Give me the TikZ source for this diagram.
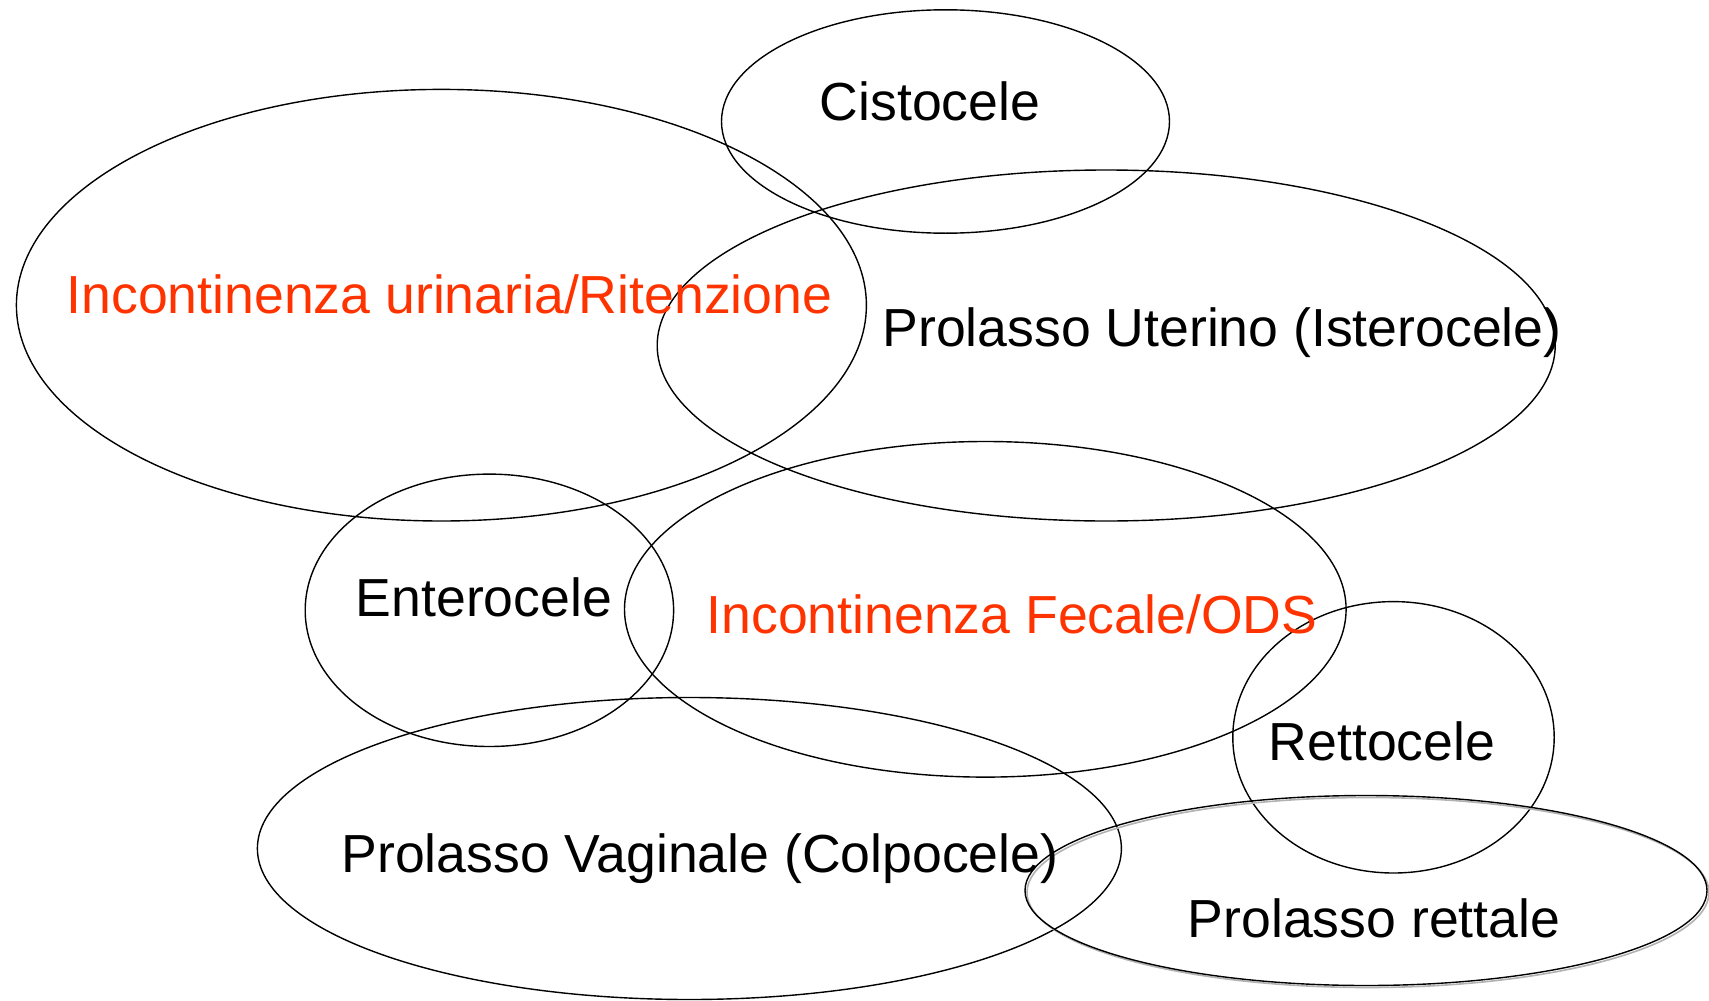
\documentclass[tikz,border=0pt]{standalone}
\usepackage{fontspec}
\setmainfont{Liberation Sans}
\definecolor{labelred}{RGB}{255,51,0}
\begin{document}
\begin{tikzpicture}[x=1pt,y=-1pt,
  oval/.style={draw=black,line width=1.4pt},
  shadowoval/.style={draw=black!30,line width=1.6pt},
  lbl/.style={font=\fontsize{53.6}{60}\selectfont,anchor=base,inner sep=0pt,text=black},
  redlbl/.style={lbl,text=labelred}]
\useasboundingbox (0,0) rectangle (1709,1001);
% ellipses
\draw[oval] (945.5,121.5) ellipse [x radius=224, y radius=111.7];
\draw[oval] (441.4,305.2) ellipse [x radius=425, y radius=215.8];
\draw[oval] (1106.2,345.5) ellipse [x radius=449, y radius=175.5];
\draw[oval] (489.4,610.3) ellipse [x radius=184.2, y radius=136.2];
\draw[oval] (985.3,609.3) ellipse [x radius=360.8, y radius=167.8];
\draw[oval] (1393.5,737.3) ellipse [x radius=160.7, y radius=135.7];
\draw[oval] (689.4,848.5) ellipse [x radius=432, y radius=151];
\draw[shadowoval] (1368,892.5) ellipse [x radius=341, y radius=95];
\draw[oval] (1366,890.5) ellipse [x radius=341, y radius=95];
% labels
\node[lbl] (cisto) at (930,120) {Cistocele};
\node[redlbl] (urin) at (449.5,313) {Incontinenza urinaria/Ritenzione};
\node[lbl] (uter) at (1222,346) {Prolasso Uterino (Isterocele)};
\node[lbl] (entero) at (484,616) {Enterocele};
\node[redlbl] (fecale) at (1012,633) {Incontinenza Fecale/ODS};
\node[lbl] (retto) at (1382,760) {Rettocele};
\node[lbl] (vagin) at (700,872) {Prolasso Vaginale (Colpocele)};
\node[lbl] (rett) at (1374,937) {Prolasso rettale};
\end{tikzpicture}
\end{document}
